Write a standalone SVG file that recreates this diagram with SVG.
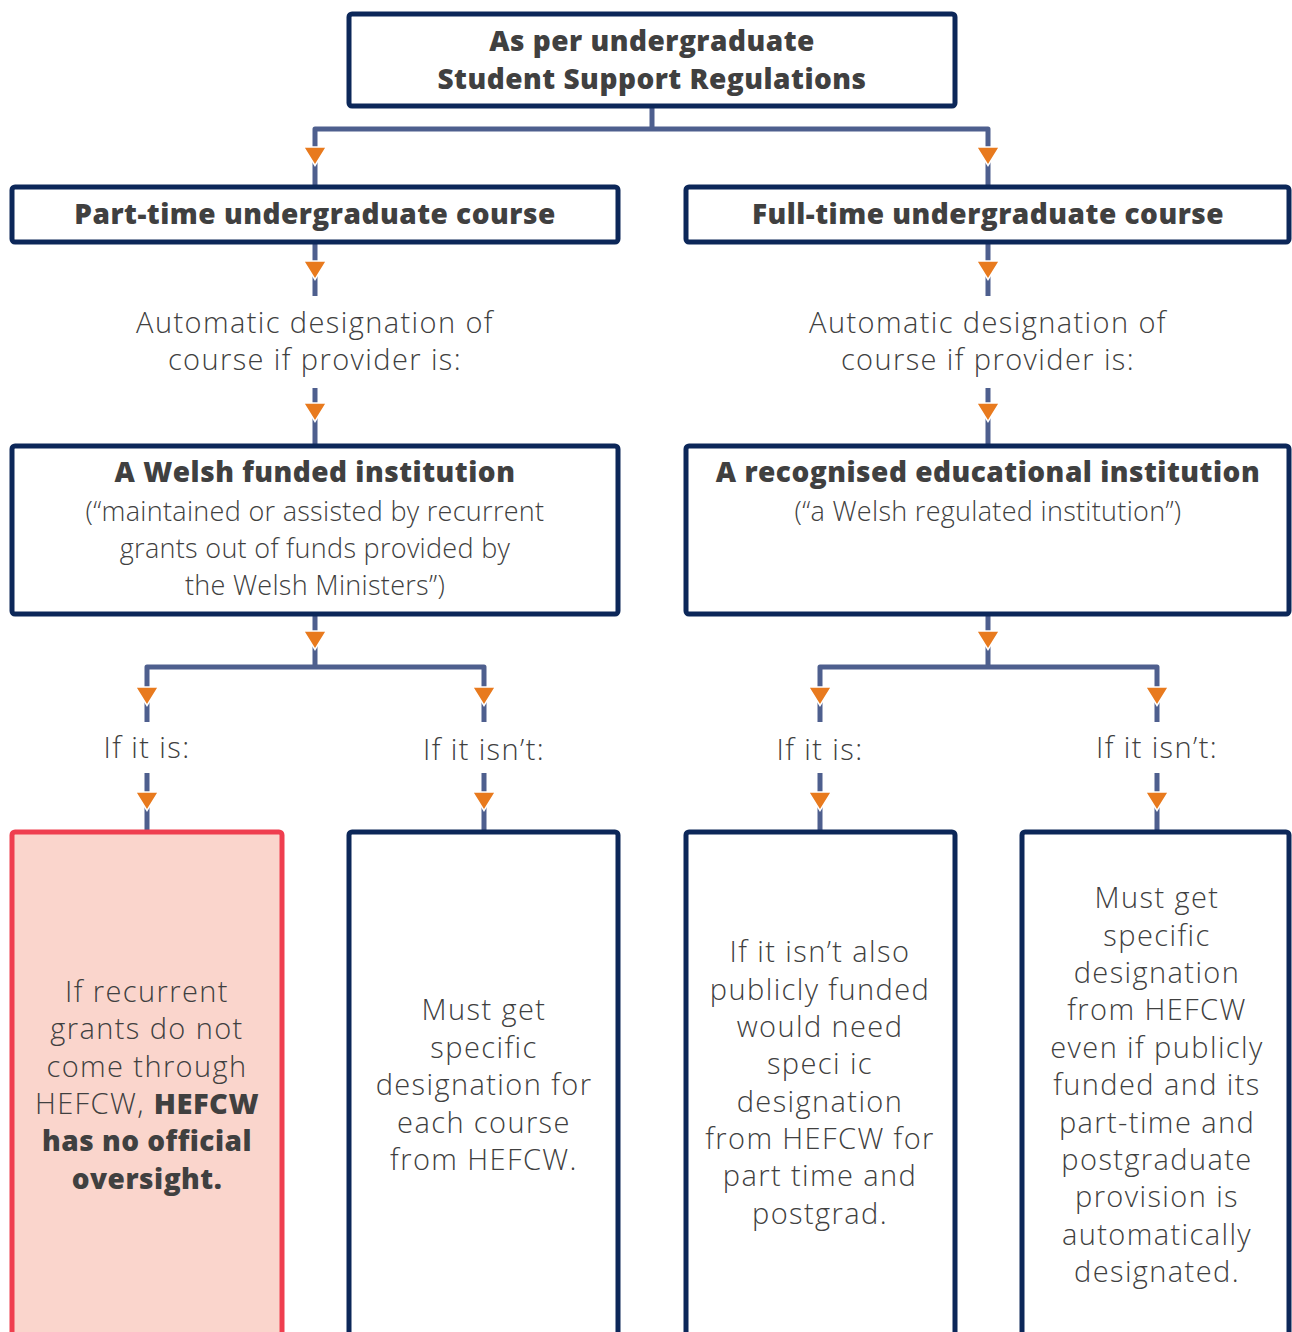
<svg xmlns="http://www.w3.org/2000/svg" width="1292" height="1332" viewBox="0 0 1292 1332">
<style>
.box{fill:#ffffff;stroke:#0c2759;stroke-width:5}
.red{fill:#fad5cc;stroke:#ef3e4f;stroke-width:5}
.conn{fill:none;stroke:#4e5f8e;stroke-width:5;stroke-linejoin:round}
.t{font-family:"Open Sans","Liberation Sans",sans-serif;fill:#404040;text-anchor:middle}
.b{font-weight:800;font-size:28px;letter-spacing:0.5px}
.l{font-weight:300;font-size:29px;letter-spacing:1.4px}
.s{font-size:27px;letter-spacing:0.3px}
.lb{font-weight:800;letter-spacing:0.5px}
</style>
<defs>
<path id="arr" d="M-11.5,0 L11.5,0 L0,18.5 Z" fill="#e87a1e" stroke="#ffffff" stroke-width="1.5" stroke-linejoin="miter"/>
</defs>
<rect width="1292" height="1332" fill="#ffffff"/>
<g id="connectors">
<path class="conn" d="M652,107 V129 H315 V186 M652,129 H988 V186"/>
<path class="conn" d="M315,244 V296 M315,388 V445 M988,244 V296 M988,388 V445"/>
<path class="conn" d="M315,616 V667 H147 V722 M315,667 H484 V722 M988,616 V667 H820 V722 M988,667 H1157 V722"/>
<path class="conn" d="M147,773 V831 M484,773 V831 M820,773 V831 M1157,773 V831"/>
<use href="#arr" x="315" y="147"/><use href="#arr" x="988" y="147"/>
<use href="#arr" x="315" y="261"/><use href="#arr" x="988" y="261"/>
<use href="#arr" x="315" y="403"/><use href="#arr" x="988" y="403"/>
<use href="#arr" x="315" y="631"/><use href="#arr" x="988" y="631"/>
<use href="#arr" x="147" y="687"/><use href="#arr" x="484" y="687"/><use href="#arr" x="820" y="687"/><use href="#arr" x="1157" y="687"/>
<use href="#arr" x="147" y="792"/><use href="#arr" x="484" y="792"/><use href="#arr" x="820" y="792"/><use href="#arr" x="1157" y="792"/>
</g>
<g id="n-top">
<rect class="box" x="349" y="14" width="606" height="92" rx="3"/>
<text class="t b" x="652" y="51">As per undergraduate</text>
<text class="t b" x="652" y="89">Student Support Regulations</text>
</g>
<g id="n-parttime">
<rect class="box" x="12" y="187" width="606" height="55" rx="3"/>
<text class="t b" x="315" y="224">Part-time undergraduate course</text>
</g>
<g id="n-fulltime">
<rect class="box" x="686" y="187" width="603" height="55" rx="3"/>
<text class="t b" x="988" y="224">Full-time undergraduate course</text>
</g>
<g id="n-auto-left">
<text class="t l" x="315" y="333">Automatic designation of</text>
<text class="t l" x="315" y="370">course if provider is:</text>
</g>
<g id="n-auto-right">
<text class="t l" x="988" y="333">Automatic designation of</text>
<text class="t l" x="988" y="370">course if provider is:</text>
</g>
<g id="n-welsh">
<rect class="box" x="12" y="446" width="606" height="168" rx="3"/>
<text class="t b" x="315" y="482">A Welsh funded institution</text>
<text class="t l s" x="315" y="521">(“maintained or assisted by recurrent</text>
<text class="t l s" x="315" y="558">grants out of funds provided by</text>
<text class="t l s" x="315" y="595">the Welsh Ministers”)</text>
</g>
<g id="n-recognised">
<rect class="box" x="686" y="446" width="603" height="168" rx="3"/>
<text class="t b" x="988" y="482">A recognised educational institution</text>
<text class="t l s" x="988" y="521">(“a Welsh regulated institution”)</text>
</g>
<g id="n-ifis-l"><text class="t l" x="147" y="758">If it is:</text></g>
<g id="n-ifisnt-l"><text class="t l" x="484" y="760">If it isn’t:</text></g>
<g id="n-ifis-r"><text class="t l" x="820" y="760">If it is:</text></g>
<g id="n-ifisnt-r"><text class="t l" x="1157" y="758">If it isn’t:</text></g>
<g id="n-nooversight">
<rect class="red" x="12" y="832" width="270" height="520" rx="3"/>
<text class="t l" x="147" y="1002">If recurrent</text>
<text class="t l" x="147" y="1039">grants do not</text>
<text class="t l" x="147" y="1077">come through</text>
<text class="t l" x="147" y="1114">HEFCW, <tspan class="lb">HEFCW</tspan></text>
<text class="t b" x="147" y="1151">has no official</text>
<text class="t b" x="147" y="1189">oversight.</text>
</g>
<g id="n-mustget">
<rect class="box" x="349" y="832" width="269" height="520" rx="3"/>
<text class="t l" x="484" y="1020">Must get</text>
<text class="t l" x="484" y="1058">specific</text>
<text class="t l" x="484" y="1095">designation for</text>
<text class="t l" x="484" y="1133">each course</text>
<text class="t l" x="484" y="1170">from HEFCW.</text>
</g>
<g id="n-notpublic">
<rect class="box" x="686" y="832" width="269" height="520" rx="3"/>
<text class="t l" x="820" y="962">If it isn’t also</text>
<text class="t l" x="820" y="1000">publicly funded</text>
<text class="t l" x="820" y="1037">would need</text>
<text class="t l" x="820" y="1074">speci ic</text>
<text class="t l" x="820" y="1112">designation</text>
<text class="t l" x="820" y="1149">from HEFCW for</text>
<text class="t l" x="820" y="1186">part time and</text>
<text class="t l" x="820" y="1224">postgrad.</text>
</g>
<g id="n-evenif">
<rect class="box" x="1022" y="832" width="267" height="520" rx="3"/>
<text class="t l" x="1157" y="908">Must get</text>
<text class="t l" x="1157" y="946">specific</text>
<text class="t l" x="1157" y="983">designation</text>
<text class="t l" x="1157" y="1020">from HEFCW</text>
<text class="t l" x="1157" y="1058">even if publicly</text>
<text class="t l" x="1157" y="1095">funded and its</text>
<text class="t l" x="1157" y="1133">part-time and</text>
<text class="t l" x="1157" y="1170">postgraduate</text>
<text class="t l" x="1157" y="1207">provision is</text>
<text class="t l" x="1157" y="1245">automatically</text>
<text class="t l" x="1157" y="1282">designated.</text>
</g>
</svg>
